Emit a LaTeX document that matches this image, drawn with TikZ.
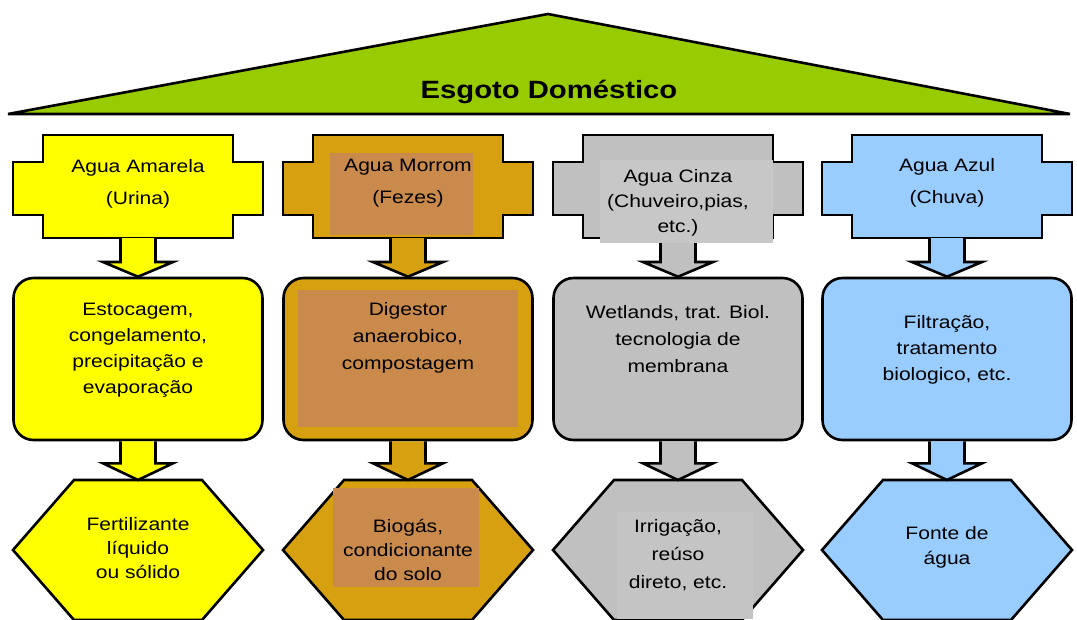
\documentclass[tikz,border=0pt]{standalone}
\usepackage{fontspec}
\setmainfont[FakeStretch=1.17]{Liberation Sans}
\usetikzlibrary{calc}
\definecolor{tgreen}{HTML}{99CC00}
\definecolor{yel}{HTML}{FFFF00}
\definecolor{brn}{HTML}{D6A010}
\definecolor{brnin}{HTML}{C98A4C}
\definecolor{gry}{HTML}{C0C0C0}
\definecolor{gryin}{HTML}{C7C7C7}
\definecolor{gryin2}{HTML}{C4C4C4}
\definecolor{blu}{HTML}{99CCFF}
\begin{document}
\begin{tikzpicture}[x=1pt,y=-1pt,
  outl/.style={draw=black,line width=2.6pt,line join=miter},
  midbox/.style={outl,rounded corners=20pt,minimum width=249pt,minimum height=162pt,inner sep=0pt},
  barrow/.style={outl,line join=miter},
  lbl/.style={align=center,inner sep=0pt,font=\fontsize{18}{#1}\selectfont},
  lbl/.default=26]
\useasboundingbox (0,0) rectangle (1077,619);
\clip (0,0) rectangle (1077,619);
\fill[white] (0,0) rectangle (1077,619);
% roof
\draw[outl,fill=tgreen] (548,14) -- (1070,114) -- (8,114) -- cycle;
\node[font=\fontsize{25}{30}\selectfont\bfseries,inner sep=0pt] (title) at (549,92) {Esgoto Doméstico};
% columns
\foreach \i/\c/\col in {1/138/yel,2/408/brn,3/678/gry,4/947/blu}{
  \draw[outl,fill=\col] (\c-95,135) -- (\c+95,135) -- (\c+95,162) -- (\c+125,162) -- (\c+125,215) -- (\c+95,215) -- (\c+95,238) -- (\c-95,238) -- (\c-95,215) -- (\c-125,215) -- (\c-125,162) -- (\c-95,162) -- cycle;
  \coordinate (tb\i) at (\c,238);
  \node[midbox,fill=\col] (m\i) at (\c,359) {};
  \coordinate (ht\i) at (\c,480);
  \draw[outl,fill=\col] (\c-64,480) -- (\c+64,480) -- (\c+125,550) -- (\c+64,620) -- (\c-64,620) -- (\c-125,550) -- cycle;
  \draw[barrow,fill=\col] ($(tb\i)+(-17.5,0)$) -- ($(tb\i)+(-17.5,24)$) -- ($(tb\i)+(-35,24)$) -- (m\i.north) -- ($(tb\i)+(35,24)$) -- ($(tb\i)+(17.5,24)$) -- ($(tb\i)+(17.5,0)$);
  \draw[barrow,fill=\col] ($(m\i.south)+(-17.5,0)$) -- ($(m\i.south)+(-17.5,22)$) -- ($(m\i.south)+(-35,22)$) -- (ht\i) -- ($(m\i.south)+(35,22)$) -- ($(m\i.south)+(17.5,22)$) -- ($(m\i.south)+(17.5,0)$);
}
% inner text panels
\fill[brnin] (330,153) rectangle (473,235);
\fill[brnin] (298,290) rectangle (518,427);
\fill[brnin] (333,488) rectangle (479,587);
\fill[gryin] (600,160) rectangle (773,243);
\fill[gryin2] (617,512) rectangle (753,619);
% texts
\node[lbl=32] (a1) at (138,184) {Agua Amarela\\(Urina)};
\node[lbl=32] (a2) at (408,183) {Agua Morrom\\(Fezes)};
\node[lbl=25] (a3) at (678,203) {Agua Cinza\\(Chuveiro,pias,\\etc.)};
\node[lbl=32] (a4) at (947,183) {Agua Azul\\(Chuva)};
\node[lbl=26] (b1) at (138,350) {Estocagem,\\congelamento,\\precipitação e\\evaporação};
\node[lbl=27] (b2) at (408,338) {Digestor\\anaerobico,\\compostagem};
\node[lbl=27] (b3) at (678,339) {Wetlands, trat. Biol.\\tecnologia de\\membrana};
\node[lbl=26] (b4) at (947,350) {Filtração,\\tratamento\\biologico, etc.};
\node[lbl=24] (c1) at (138,548) {Fertilizante\\líquido\\ou sólido};
\node[lbl=24] (c2) at (408,550) {Biogás,\\condicionante\\do solo};
\node[lbl=28] (c3) at (678,555) {Irrigação,\\reúso\\direto, etc.};
\node[lbl=25] (c4) at (947,547) {Fonte de\\água};
\end{tikzpicture}
\end{document}
